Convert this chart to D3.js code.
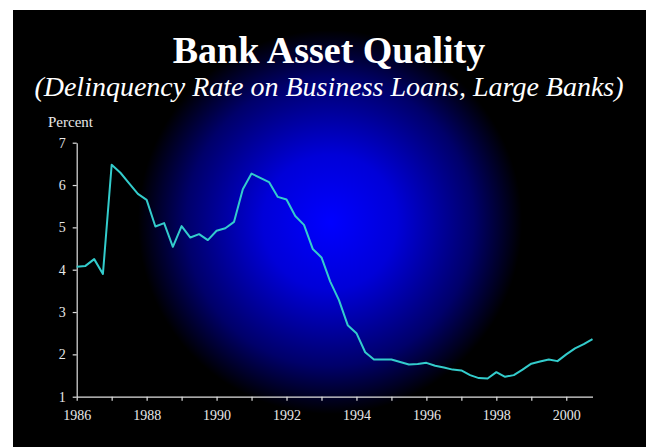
<!DOCTYPE html>
<html>
<head>
<meta charset="utf-8">
<script src="https://cdn.jsdelivr.net/npm/d3@7"></script>
<style>
  html, body { margin: 0; padding: 0; background: #ffffff; }
  svg { display: block; }
</style>
</head>
<body>
<svg id="chart" width="646" height="447"></svg>
<script>
// Delinquency rate on business loans at large banks, quarterly, 1986Q1-2000Q4 (percent)
const firstYear = 1986;
const rates = [
  4.07, 4.09, 4.25, 3.90,   // 1986
  6.48, 6.29, 6.04, 5.79,   // 1987
  5.65, 5.02, 5.10, 4.54,   // 1988
  5.03, 4.76, 4.84, 4.70,   // 1989
  4.92, 4.98, 5.13, 5.90,   // 1990
  6.27, 6.17, 6.07, 5.72,   // 1991
  5.66, 5.27, 5.06, 4.49,   // 1992
  4.29, 3.72, 3.28, 2.69,   // 1993
  2.50, 2.05, 1.88, 1.88,   // 1994
  1.88, 1.82, 1.76, 1.77,   // 1995
  1.80, 1.73, 1.69, 1.64,   // 1996
  1.62, 1.51, 1.44, 1.43,   // 1997
  1.58, 1.47, 1.51, 1.64,   // 1998
  1.78, 1.83, 1.88, 1.84,   // 1999
  2.00, 2.14, 2.24, 2.36    // 2000
];
const yearTicks = [1986, 1987, 1988, 1989, 1990, 1991, 1992, 1993, 1994, 1995, 1996, 1997, 1998, 1999, 2000];
const yearLabels = [1986, 1988, 1990, 1992, 1994, 1996, 1998, 2000];
const percentTicks = [1, 2, 3, 4, 5, 6, 7];

const title = "Bank Asset Quality";
const subtitle = "(Delinquency Rate on Business Loans, Large Banks)";
const yAxisTitle = "Percent";

const W = 646, H = 447;
const svg = d3.select("#chart");
const serif = "'Liberation Serif', 'Times New Roman', serif";

// Slide background: black with a blue glow in the middle
const defs = svg.append("defs");
const glow = defs.append("radialGradient")
  .attr("id", "glow")
  .attr("gradientUnits", "userSpaceOnUse")
  .attr("cx", 330).attr("cy", 222).attr("r", 192);
glow.append("stop").attr("offset", 0).attr("stop-color", "#0000ff");
glow.append("stop").attr("offset", 0.35).attr("stop-color", "#0000d8");
glow.append("stop").attr("offset", 0.75).attr("stop-color", "#00006a");
glow.append("stop").attr("offset", 1).attr("stop-color", "#000000");

svg.append("rect").attr("x", 0).attr("y", 0).attr("width", W).attr("height", H).attr("fill", "#ffffff");
svg.append("rect").attr("x", 13).attr("y", 10).attr("width", W - 13).attr("height", H - 10).attr("fill", "#000000");
svg.append("rect").attr("x", 13).attr("y", 10).attr("width", W - 13).attr("height", H - 10).attr("fill", "url(#glow)");

// Titles
svg.append("text")
  .attr("x", 329).attr("y", 63)
  .attr("text-anchor", "middle")
  .attr("font-family", serif).attr("font-weight", "bold").attr("font-size", 38)
  .attr("fill", "#ffffff")
  .text(title);

svg.append("text")
  .attr("x", 329).attr("y", 96)
  .attr("text-anchor", "middle")
  .attr("font-family", serif).attr("font-style", "italic").attr("font-size", 28)
  .attr("fill", "#ffffff")
  .text(subtitle);

// Scales
const lastX = firstYear + (rates.length - 1) / 4;
const x = d3.scaleLinear().domain([firstYear, lastX]).range([76.7, 592.5]);
const y = d3.scaleLinear().domain([1, 7]).range([396.7, 142.7]);

const axisColor = "#e0e0e0";
const labelColor = "#e8e8e8";

// Y axis
const yAxis = svg.append("g")
  .attr("transform", `translate(${x(firstYear)},0)`)
  .call(d3.axisLeft(y).tickValues(percentTicks).tickFormat(d3.format("d")).tickSize(4).tickSizeOuter(0).tickPadding(7));

// X axis
const xAxis = svg.append("g")
  .attr("transform", `translate(0,${y(1)})`)
  .call(d3.axisBottom(x).tickValues(yearTicks)
    .tickFormat(d => yearLabels.includes(d) ? String(d) : "")
    .tickSize(4).tickSizeOuter(0).tickPadding(9));

[yAxis, xAxis].forEach(g => {
  g.select(".domain").attr("stroke", axisColor).attr("stroke-width", 1.2);
  g.selectAll(".tick line").attr("stroke", axisColor).attr("stroke-width", 1.2);
  g.selectAll(".tick text")
    .attr("fill", labelColor)
    .attr("font-family", serif)
    .attr("font-size", 14);
});

// Y axis title
svg.append("text")
  .attr("x", 48).attr("y", 127)
  .attr("font-family", serif).attr("font-size", 15)
  .attr("fill", labelColor)
  .text(yAxisTitle);

// Delinquency rate line
const line = d3.line()
  .x((d, i) => x(firstYear + i / 4))
  .y(d => y(d));

svg.append("path")
  .datum(rates)
  .attr("fill", "none")
  .attr("stroke", "#33cccc")
  .attr("stroke-width", 2)
  .attr("stroke-linejoin", "round")
  .attr("d", line);
</script>
</body>
</html>
